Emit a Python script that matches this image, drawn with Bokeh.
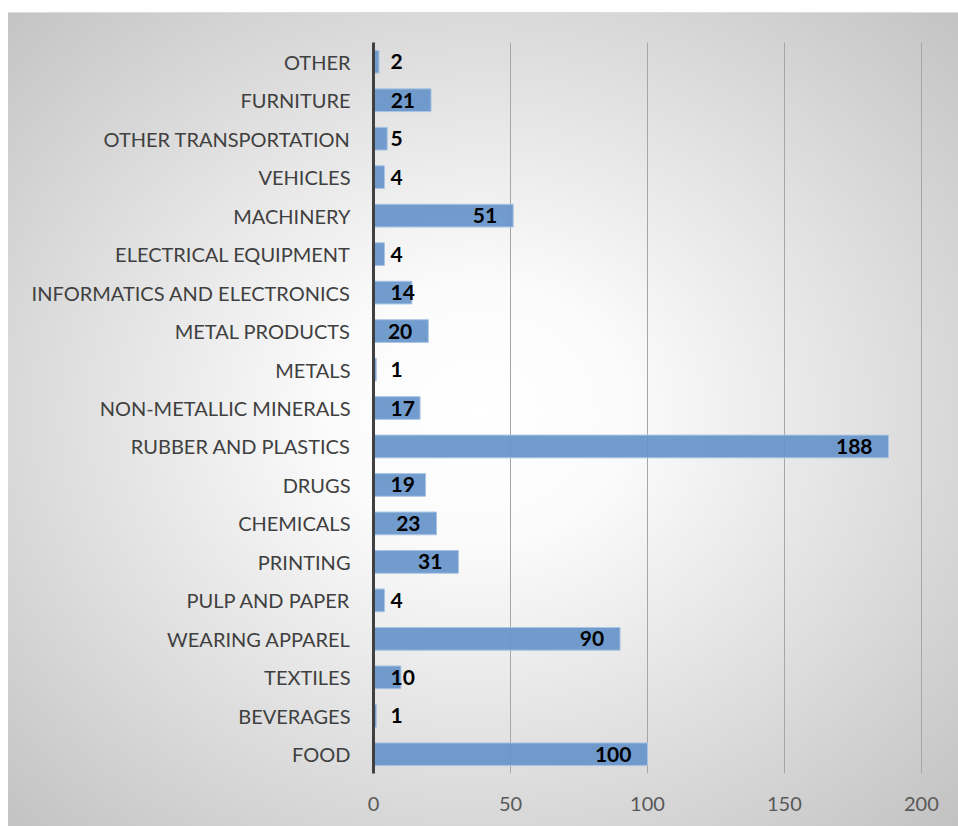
from bokeh.plotting import figure
from bokeh.models import ColumnDataSource, Range1d, FactorRange, FixedTicker
from bokeh.core.properties import value
from bokeh.embed import file_html
from bokeh.resources import INLINE

# Data (bottom to top)
categories = [
    "FOOD", "BEVERAGES", "TEXTILES", "WEARING APPAREL", "PULP AND PAPER",
    "PRINTING", "CHEMICALS", "DRUGS", "RUBBER AND PLASTICS",
    "NON-METALLIC MINERALS", "METALS", "METAL PRODUCTS",
    "INFORMATICS AND ELECTRONICS", "ELECTRICAL EQUIPMENT", "MACHINERY",
    "VEHICLES", "OTHER TRANSPORTATION", "FURNITURE", "OTHER",
]
counts = [100, 1, 10, 90, 4, 31, 23, 19, 188, 17, 1, 20, 14, 4, 51, 4, 5, 21, 2]
x_ticks = [0, 50, 100, 150, 200]

FONT = "Lato"
inside = [v >= 20 for v in counts]
label_x = [v if ins else 0 for v, ins in zip(counts, inside)]
label_align = ["right" if ins else "left" for ins in inside]
label_off = [-16 if ins else 17 for ins in inside]

source = ColumnDataSource(dict(
    cat=categories, val=counts, lx=label_x, la=label_align, lo=label_off,
    txt=[str(v) for v in counts],
))

p = figure(
    width=958, height=826,
    y_range=FactorRange(*categories), x_range=Range1d(x_ticks[0], x_ticks[-1] * 1.002),
    output_backend="svg", toolbar_location=None,
    min_border_left=373, min_border_right=36, min_border_top=42, min_border_bottom=53,
)
p.styles = {
    "background": "linear-gradient(#ffffff,#ffffff) left top / 8px 100% no-repeat, "
                  "linear-gradient(#ffffff,#ffffff) left top / 100% 12px no-repeat, "
                  "linear-gradient(#dcdcdc,#dcdcdc) left 12px / 100% 1px no-repeat, "
                  "radial-gradient(ellipse farthest-corner at 50% 50%, #ffffff 0%, #fbfbfb 22%, #c2c2c2 100%)",
}
p.border_fill_alpha = 0
p.background_fill_alpha = 0
p.outline_line_color = None

p.hbar(y="cat", right="val", height=0.59, source=source,
       fill_color="#6795c9", fill_alpha=0.93, line_color="#a9c4e4", line_width=1)

p.text(x="lx", y="cat", text="txt", source=source, text_align="la", x_offset="lo",
       text_baseline="middle", text_font=value(FONT), text_font_style="bold",
       text_font_size="21px", text_color="#000000")

p.xgrid.grid_line_color = "#a6a6a6"
p.xgrid.grid_line_width = 1
p.xgrid.ticker = FixedTicker(ticks=x_ticks)
p.ygrid.grid_line_color = None

xa = p.xaxis[0]
xa.ticker = FixedTicker(ticks=x_ticks)
xa.axis_line_color = None
xa.major_tick_line_color = None
xa.minor_tick_line_color = None
xa.major_label_text_font = FONT
xa.major_label_text_font_size = "20px"
xa.major_label_text_color = "#595959"
xa.major_label_standoff = 17

ya = p.yaxis[0]
ya.axis_line_color = "#404040"
ya.axis_line_width = 3
ya.major_tick_line_color = None
ya.minor_tick_line_color = None
ya.major_label_text_font = FONT
ya.major_label_text_font_size = "20px"
ya.major_label_text_color = "#404040"
ya.major_label_standoff = 17

open("out.html", "w").write(file_html(p, INLINE))
